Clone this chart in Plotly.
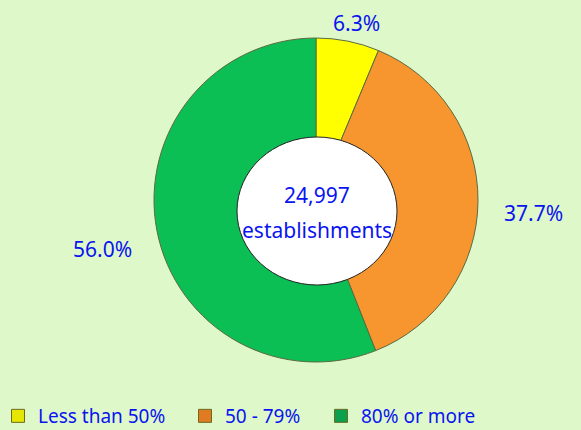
import plotly.graph_objects as go

labels = ["Less than 50%", "50 - 79%", "80% or more"]
values = [6.3, 37.7, 56.0]
colors = ["#ffff00", "#f7962f", "#0cbf55"]
icon_colors = ["#e6e600", "#e07b22", "#0aa04c"]
total_text = "24,997"
center_label = "establishments"

W, H = 581, 430
cx, cy, r = 316, 200, 162

fig = go.Figure()
fig.add_trace(go.Pie(
    labels=labels, values=values, sort=False, direction="clockwise", rotation=0,
    hole=0, textinfo="none", hoverinfo="label+percent", showlegend=False,
    marker=dict(colors=colors, line=dict(color="#5a6a40", width=1)),
    domain=dict(x=[(cx - r) / W, (cx + r) / W], y=[1 - (cy + r) / H, 1 - (cy - r) / H]),
))

# legend entries, one legend per category
legend_x = [-2, 185, 321]
blue = "#0a14f0"
font = "Noto Sans"
for i, (lab, col) in enumerate(zip(labels, icon_colors)):
    lname = "legend" if i == 0 else f"legend{i + 1}"
    fig.add_trace(go.Scatter(
        x=[None], y=[None], mode="markers", name=lab, legend=lname,
        marker=dict(symbol="square", size=13, color=col, line=dict(color="#6b6b20", width=1)),
        showlegend=True,
    ))
    fig.update_layout({lname: dict(
        orientation="h", x=legend_x[i] / W, y=1 - 416 / H, xanchor="left", yanchor="middle",
        font=dict(color=blue, size=19, family=font), itemwidth=30,
        bgcolor="rgba(0,0,0,0)")})

# center ellipse
fig.add_shape(type="circle", xref="paper", yref="paper",
              x0=237 / W, x1=397 / W, y0=1 - 285 / H, y1=1 - 137 / H,
              fillcolor="white", line=dict(color="#222222", width=1), layer="above")

label_pos = [(356, 23), (533, 213), (102, 249)]
for v, (x, y) in zip(values, label_pos):
    fig.add_annotation(x=x / W, y=1 - y / H, xref="paper", yref="paper",
                       xanchor="center", yanchor="middle",
                       text=f"{v:.1f}%", showarrow=False,
                       font=dict(color=blue, size=21, family=font))
fig.add_annotation(x=317 / W, y=1 - 195 / H, xref="paper", yref="paper", text=total_text,
                   xanchor="center", yanchor="middle",
                   showarrow=False, font=dict(color=blue, size=21, family=font))
fig.add_annotation(x=317 / W, y=1 - 230 / H, xref="paper", yref="paper", text=center_label,
                   xanchor="center", yanchor="middle",
                   showarrow=False, font=dict(color=blue, size=21, family=font))

fig.update_layout(
    width=W, height=H, margin=dict(l=0, r=0, t=0, b=0, autoexpand=False),
    paper_bgcolor="#def8c9", plot_bgcolor="rgba(0,0,0,0)",
    showlegend=True,
    xaxis=dict(visible=False), yaxis=dict(visible=False),
)
fig.write_html("out.html", config={"displayModeBar": False},
               post_script="document.body.style.margin='0';document.body.style.padding='0';")
